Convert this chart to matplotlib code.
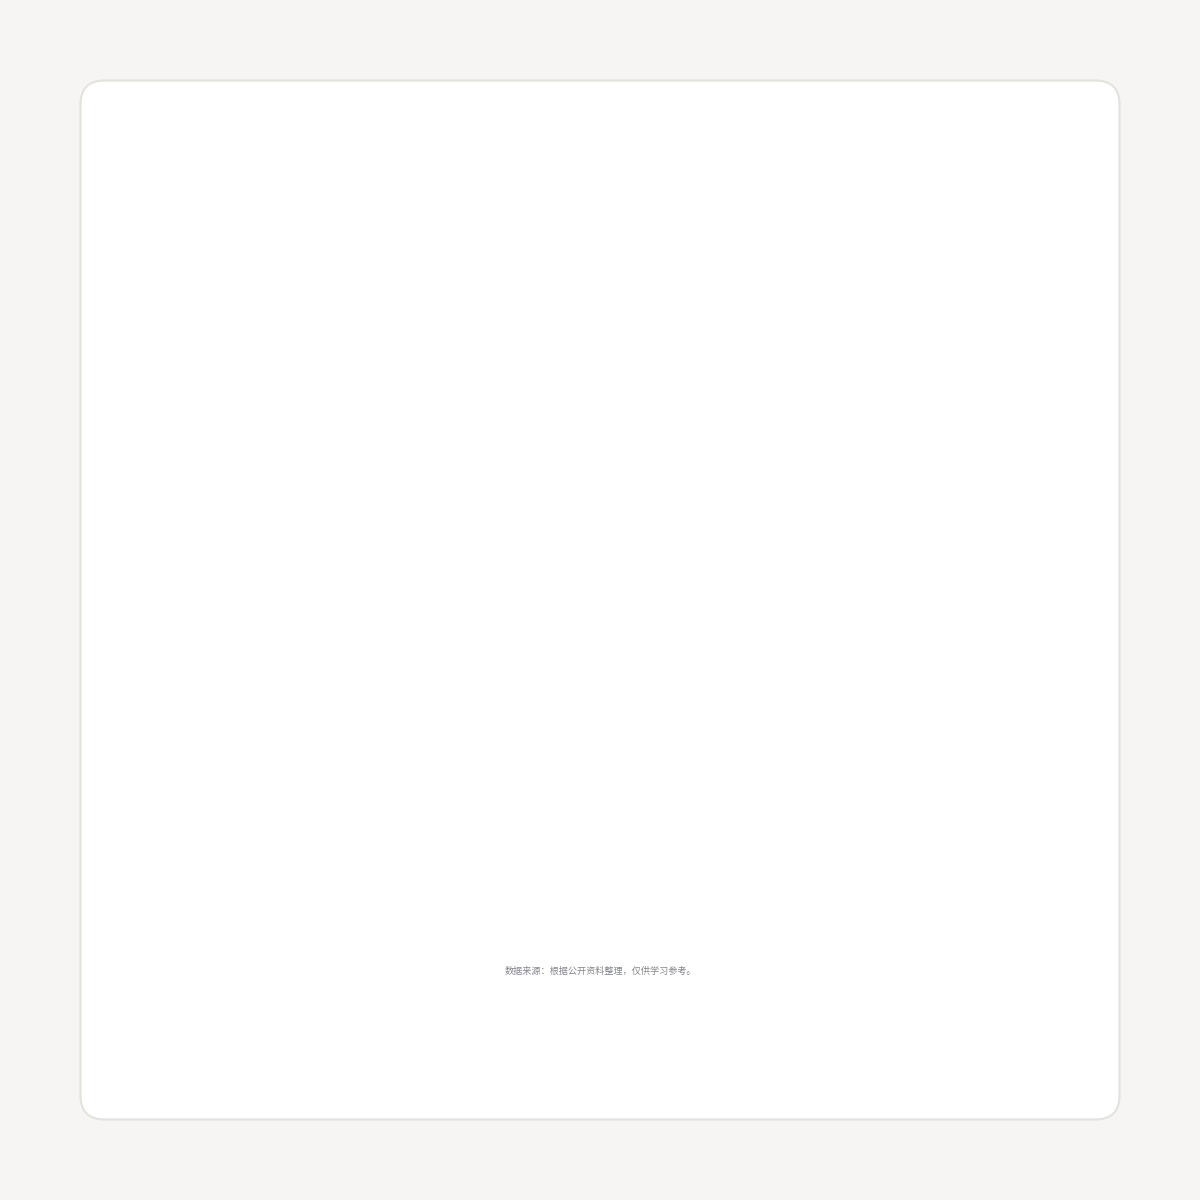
import matplotlib.pyplot as plt
from matplotlib.patches import FancyBboxPatch

# footer note (the chart itself is empty in the reference)
NOTE = "数据来源：根据公开资料整理，仅供学习参考。"

PAGE_BG = "#f6f5f3"
CARD_BG = "#ffffff"
CARD_EDGE = "#e4e2df"
NOTE_COLOR = "#85858f"

plt.rcParams['font.family'] = ['Noto Sans CJK SC', 'DejaVu Sans']

fig = plt.figure(figsize=(12, 12), dpi=100)
fig.patch.set_facecolor(PAGE_BG)

ax = fig.add_axes([0, 0, 1, 1])
ax.set_xlim(0, 1200)
ax.set_ylim(1200, 0)
ax.axis('off')

# rounded card
card = FancyBboxPatch((80.5, 80.5), 1039, 1039,
                      boxstyle="round,pad=0,rounding_size=24",
                      facecolor=CARD_BG, edgecolor=CARD_EDGE, linewidth=1.5)
ax.add_patch(card)

ax.text(600, 971, NOTE, ha='center', va='center',
        fontsize=6.6, color=NOTE_COLOR)

fig.savefig("out.png", dpi=100, facecolor=PAGE_BG)
